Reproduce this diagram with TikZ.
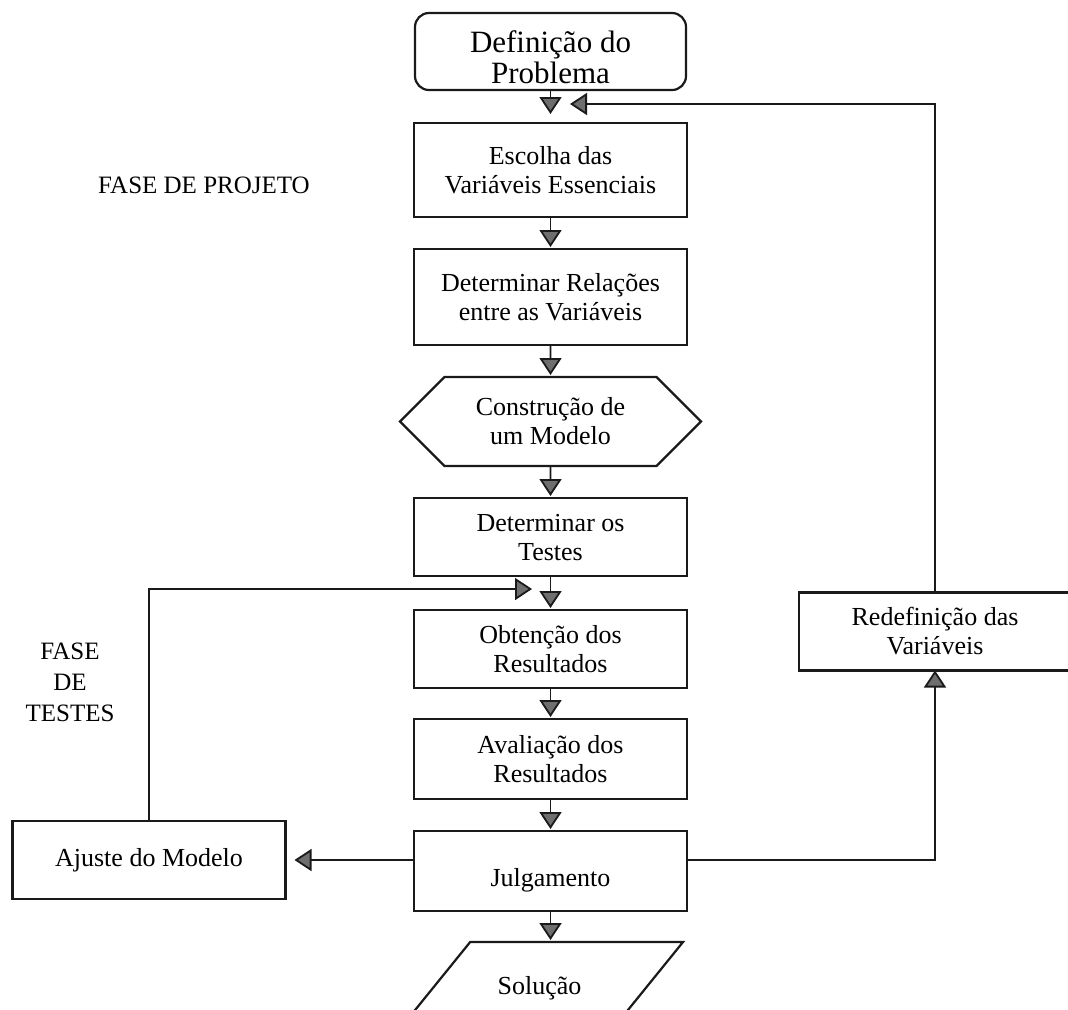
\documentclass[tikz,border=0pt]{standalone}
\usepackage{fontspec}
\setmainfont{Liberation Serif}
\usetikzlibrary{arrows.meta,positioning,shapes.geometric,shapes.symbols}
\definecolor{ink}{HTML}{1A1A1A}
\definecolor{tipgray}{HTML}{6E6E6E}
\tikzset{
  stage/.style={rectangle,draw=ink,line width=1.1pt,outer sep=0pt,fill=white,align=center,minimum width=136.5pt,minimum height=39pt,inner sep=3pt,font=\fontsize{13pt}{14.5pt}\selectfont},
  startbox/.style={stage,rounded corners=7pt,inner ysep=0pt,font=\fontsize{15.5pt}{15.5pt}\selectfont},
  modelbox/.style={stage,shape=signal,signal to=west and east,minimum width=150.5pt,minimum height=44.5pt},
  outbox/.style={stage,shape=trapezium,trapezium left angle=51,trapezium right angle=129,trapezium stretches body=true,inner ysep=17pt,minimum height=0pt,minimum width=143.5pt},
  arrow/.style={-{Triangle[length=8.5pt,width=11pt,fill=tipgray]},line width=0.9pt,ink},
  phase/.style={align=center,font=\fontsize{12.5pt}{15.5pt}\selectfont}
}

\begin{document}
\begin{tikzpicture}[node distance=16pt]
    \useasboundingbox (0,0) rectangle (534pt,-504.5pt);
    \node[startbox,minimum width=135.5pt,minimum height=38.5pt] (def) at (275.25pt,-25.75pt) {\rule{0pt}{17pt}Definição do\\Problema};
    \node[stage,below=16.5pt of def,minimum height=47pt] (choose) {Escolha das\\Variáveis Essenciais};
    \node[stage,below=of choose,minimum height=48pt] (relate) {Determinar Relações\\entre as Variáveis};
    \node[modelbox,below=of relate] (model) {Construção de\\um Modelo};
    \node[stage,below=of model] (tests) {Determinar os\\Testes};
    \node[stage,below=17pt of tests] (results) {Obtenção dos\\Resultados};
    \node[stage,below=15.5pt of results,minimum height=40pt] (review) {Avaliação dos\\Resultados};
    \node[stage,below=of review,minimum height=40pt,text height=18.5pt] (judge) {Julgamento};
    \node[outbox,below=15.5pt of judge,xshift=-5.5pt] (solution) {Solução};
    \node[stage] (adjust) at (74.5pt,-430pt) {Ajuste do Modelo};
    \node[stage,minimum width=136pt] (redefine) at (467.5pt,-315.75pt) {Redefinição das\\Variáveis};
    \node[phase] (design) at (102pt,-92.5pt) {FASE DE PROJETO};
    \node[phase] (testing) at (35pt,-341pt) {FASE\\DE\\TESTES};
    \coordinate (backtop) at (285pt,-52pt);
    \coordinate (backmid) at (266pt,-294.5pt);
    \draw[arrow,shorten >=4.5pt] (def) -- (choose);
    \draw[arrow,shorten >=1pt] (choose) -- (relate);
    \draw[arrow,shorten >=1pt] (relate) -- (model);
    \draw[arrow,shorten >=1pt] (model) -- (tests);
    \draw[arrow,shorten >=1pt] (tests) -- (results);
    \draw[arrow,shorten >=1pt] (results) -- (review);
    \draw[arrow,shorten >=1pt] (review) -- (judge);
    \draw[arrow,shorten >=1pt] (judge.south) -- (judge.south |- solution.north);
    \draw[arrow,shorten >=4.5pt] (judge.west |- adjust.east) -- (adjust.east);
    \draw[arrow] (judge.east |- adjust.east) -| (redefine.south);
    \draw[arrow] (redefine.north) |- (backtop);
    \draw[arrow] (adjust.north) |- (backmid);
\end{tikzpicture}
\end{document}
